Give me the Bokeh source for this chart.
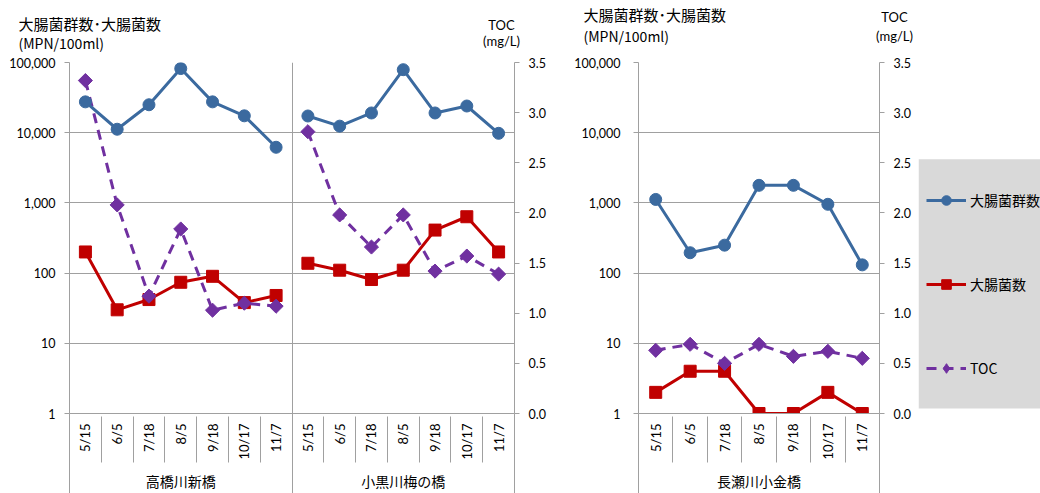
import numpy as np
from bokeh.plotting import figure
from bokeh.models import (Range1d, LinearAxis, LinearScale, FixedTicker, NumeralTickFormatter,
                          Label, Legend, LegendItem, Grid, BoxAnnotation)
from bokeh.layouts import row, column
from bokeh.embed import file_html
from bokeh.resources import INLINE

# ---------------- data ----------------
dates = ["5/15", "6/5", "7/18", "8/5", "9/18", "10/17", "11/7"]
sites_left = ["高橋川新橋", "小黒川梅の橋"]
sites_right = ["長瀬川小金橋"]

coliform_takahashi = [27500, 11200, 25000, 82000, 27500, 17400, 6200]
ecoli_takahashi = [200, 30, 42, 74, 90, 38, 48]
toc_takahashi = [3.32, 2.08, 1.17, 1.84, 1.03, 1.10, 1.07]

coliform_oguro = [17300, 12400, 19100, 79000, 19100, 24000, 9800]
ecoli_oguro = [138, 110, 81, 110, 410, 635, 200]
toc_oguro = [2.81, 1.98, 1.66, 1.98, 1.42, 1.57, 1.39]

coliform_nagase = [1120, 195, 250, 1780, 1780, 955, 131]
ecoli_nagase = [2, 4, 4, 1, 1, 2, 1]
toc_nagase = [0.63, 0.69, 0.50, 0.69, 0.57, 0.62, 0.55]

log_ticks = [1, 10, 100, 1000, 10000, 100000]
toc_ticks = [0.0, 0.5, 1.0, 1.5, 2.0, 2.5, 3.0, 3.5]

series_names = ["大腸菌群数", "大腸菌数", "TOC"]
left_title = ["大腸菌群数･大腸菌数", "(MPN/100ml)"]
right_title = ["TOC", "(mg/L)"]

# ---------------- styles ----------------
BLUE = "#3B6A9F"
RED = "#C00000"
PURPLE = "#7030A0"
GRAY = "#A0A0A0"
NUMFONT = "Lato"
JPFONT = "Noto Sans CJK JP"
W = 1040
HH = 55          # header strip height
HC = 493 - HH    # chart height
TOP = 7
BOT = 79


def build(groups, names, width, bl, br, ystand):
    n = 7 * len(names)
    p = figure(width=width, height=HC, x_axis_type=None, y_axis_type="log",
               x_range=Range1d(-0.5, n - 0.5), y_range=Range1d(1, 1e5),
               output_backend="svg", toolbar_location=None,
               min_border_left=bl, min_border_right=br,
               min_border_top=TOP, min_border_bottom=BOT,
               outline_line_color=None)
    p.extra_y_ranges = {"toc": Range1d(0, 3.5)}
    p.extra_y_scales = {"toc": LinearScale()}

    ya = p.yaxis[0]
    ya.ticker = FixedTicker(ticks=log_ticks)
    ya.formatter = NumeralTickFormatter(format="0,0")
    ya.axis_line_color = GRAY
    ya.major_tick_line_color = GRAY
    ya.major_tick_in = 0
    ya.major_tick_out = 5
    ya.minor_tick_line_color = None
    ya.major_label_standoff = ystand
    ya.major_label_text_font = NUMFONT
    ya.major_label_text_font_size = "12.5px"
    ya.major_label_text_color = "black"

    p.ygrid.ticker = FixedTicker(ticks=log_ticks)
    p.ygrid.grid_line_color = GRAY

    if len(names) > 1:
        seps = [7 * k - 0.5 for k in range(1, len(names))]
        p.add_layout(Grid(dimension=0, ticker=FixedTicker(ticks=seps),
                          grid_line_color=GRAY))

    ra = LinearAxis(y_range_name="toc", ticker=FixedTicker(ticks=toc_ticks),
                    formatter=NumeralTickFormatter(format="0.0"))
    ra.axis_line_color = GRAY
    ra.major_tick_line_color = GRAY
    ra.major_tick_in = 0
    ra.major_tick_out = 5
    ra.minor_tick_line_color = None
    ra.major_label_standoff = 9
    ra.major_label_text_font = NUMFONT
    ra.major_label_text_font_size = "12.5px"
    ra.major_label_text_color = "black"
    p.add_layout(ra, "right")

    centers = list(range(n))
    bounds = [i - 0.5 for i in range(n + 1)]
    gcent = [7 * k + 3 for k in range(len(names))]
    gb = [7 * k - 0.5 for k in range(len(names) + 1)]

    # date labels axis (no ticks)
    da = LinearAxis(ticker=FixedTicker(ticks=centers))
    da.major_label_overrides = {i: dates[i % 7] for i in centers}
    da.axis_line_color = GRAY
    da.major_tick_line_color = None
    da.major_tick_in = 0
    da.major_tick_out = 0
    da.minor_tick_line_color = None
    da.minor_tick_in = 0
    da.minor_tick_out = 0
    da.major_label_orientation = np.pi / 2
    da.major_label_standoff = 10
    da.major_label_text_font = NUMFONT
    da.major_label_text_font_size = "13px"
    da.major_label_text_color = "black"
    p.add_layout(da, "below")

    # group labels axis; its minor ticks are the category separators
    ga = LinearAxis(ticker=FixedTicker(ticks=gcent, minor_ticks=bounds))
    ga.major_label_overrides = {c: nm for c, nm in zip(gcent, names)}
    ga.axis_line_color = None
    ga.major_tick_line_color = None
    ga.major_tick_in = 0
    ga.major_tick_out = 0
    ga.minor_tick_line_color = GRAY
    ga.minor_tick_in = 46
    ga.minor_tick_out = 0
    ga.major_label_standoff = 8
    ga.major_label_text_font = JPFONT
    ga.major_label_text_font_size = "14px"
    ga.major_label_text_color = "black"
    p.add_layout(ga, "below")

    # group separators (long lines)
    sa = LinearAxis(ticker=FixedTicker(ticks=[], minor_ticks=gb))
    sa.axis_line_color = None
    sa.major_tick_line_color = None
    sa.major_tick_in = 0
    sa.major_tick_out = 0
    sa.major_label_text_font_size = "0px"
    sa.minor_tick_line_color = GRAY
    sa.minor_tick_in = 80
    sa.minor_tick_out = 0
    p.add_layout(sa, "below")

    for g, (col, ec, toc) in enumerate(groups):
        x = np.arange(7) + 7 * g
        p.line(x, ec, color=RED, line_width=3)
        p.scatter(x, ec, marker="square", size=12, color=RED)
        p.line(x, toc, y_range_name="toc", color=PURPLE, line_width=3, line_dash="10 7")
        p.scatter(x, toc, y_range_name="toc", marker="square", angle=np.pi / 4,
                  size=10, color=PURPLE)
        p.line(x, col, color=BLUE, line_width=3)
        p.scatter(x, col, marker="circle", size=12, color=BLUE)
    return p


pa = build([(coliform_takahashi, ecoli_takahashi, toc_takahashi),
            (coliform_oguro, ecoli_oguro, toc_oguro)],
           sites_left, 564, 69, 50, 9)

pb = build([(coliform_nagase, ecoli_nagase, toc_nagase)],
           sites_right, 354, 74, 39, 13)

# legend panel (legend proxies draw the right-hand series outside the visible x range)
pc = figure(width=W - 564 - 354, height=HC, x_range=Range1d(-20, -19),
            y_range=Range1d(0, HC - TOP - BOT),
            x_axis_type=None, y_axis_type=None, toolbar_location=None,
            output_backend="svg", min_border_left=0, min_border_right=0,
            min_border_top=TOP, min_border_bottom=BOT, outline_line_color=None)
pc.add_layout(BoxAnnotation(bottom=5, top=255, fill_color="#D9D9D9", fill_alpha=1,
                            line_color=None))
xs = np.arange(7)
r1 = pc.line(xs, coliform_nagase, color=BLUE, line_width=3)
r1m = pc.scatter(xs, coliform_nagase, marker="circle", color=BLUE)
r2 = pc.line(xs, ecoli_nagase, color=RED, line_width=3)
r2m = pc.scatter(xs, ecoli_nagase, marker="square", color=RED)
r3 = pc.line(xs, toc_nagase, color=PURPLE, line_width=3, line_dash="10 7")
r3m = pc.scatter(xs, toc_nagase, marker="diamond", color=PURPLE)
legend = Legend(items=[LegendItem(label=series_names[0], renderers=[r1, r1m]),
                       LegendItem(label=series_names[1], renderers=[r2, r2m]),
                       LegendItem(label=series_names[2], renderers=[r3, r3m])],
                location=(8, 33), orientation="vertical",
                background_fill_alpha=0, border_line_color=None,
                padding=0, margin=0, spacing=60,
                glyph_width=40, glyph_height=24, label_height=24,
                label_standoff=4, label_text_font=JPFONT,
                label_text_font_size="14px", label_text_color="black")
pc.add_layout(legend)

# header strip with the axis titles (data units = pixels, y measured upward)
ph = figure(width=W, height=HH, x_range=Range1d(0, W), y_range=Range1d(0, HH),
            x_axis_type=None, y_axis_type=None, toolbar_location=None,
            output_backend="svg", min_border=0, outline_line_color=None)


def header(x_left, y1, y2, x_toc, yt1, yt2):
    ph.add_layout(Label(x=x_left, y=HH - y1, text=left_title[0], text_font=JPFONT,
                        text_font_size="15px", text_baseline="middle",
                        text_align="left", text_color="black"))
    ph.add_layout(Label(x=x_left, y=HH - y2, text=left_title[1], text_font=JPFONT,
                        text_font_size="14px", text_baseline="middle",
                        text_align="left", text_color="black"))
    ph.add_layout(Label(x=x_toc, y=HH - yt1, text=right_title[0], text_font=NUMFONT,
                        text_font_size="13px", text_baseline="middle",
                        text_align="center", text_color="black"))
    ph.add_layout(Label(x=x_toc, y=HH - yt2, text=right_title[1], text_font=NUMFONT,
                        text_font_size="13px", text_baseline="middle",
                        text_align="center", text_color="black"))


header(18, 23, 42, 501, 24, 40)
header(583, 14, 35, 894, 16, 35)

layout = column(ph, row(pa, pb, pc))
open("out.html", "w").write(file_html(layout, INLINE))
